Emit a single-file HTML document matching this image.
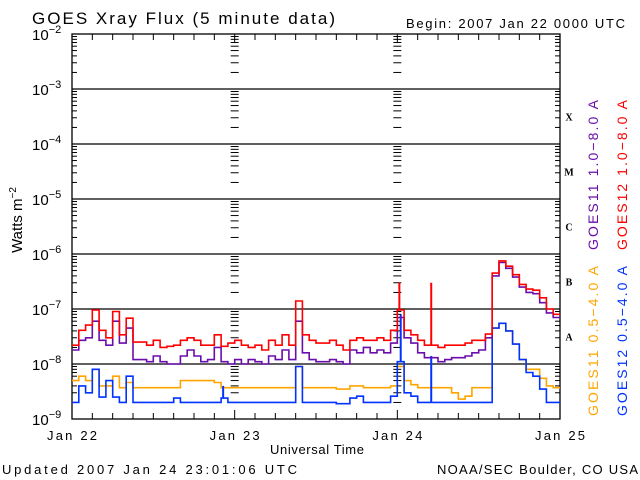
<!DOCTYPE html>
<html><head><meta charset="utf-8"><style>
html,body{margin:0;padding:0;background:#fff}
svg{display:block;font-family:"Liberation Sans","DejaVu Sans",sans-serif}
</style></head><body>
<svg id="chart" width="640" height="480" viewBox="0 0 640 480" xmlns="http://www.w3.org/2000/svg">
<rect x="0" y="0" width="640" height="480" fill="#fff"/>
<text x="32" y="24" font-size="17" textLength="303" lengthAdjust="spacing" fill="#000">GOES Xray Flux (5 minute data)</text>
<text x="406" y="28" font-size="13" textLength="219" lengthAdjust="spacing" fill="#000">Begin:  2007 Jan 22 0000 UTC</text>
<text transform="translate(22,220) rotate(-90)" text-anchor="middle" font-size="15" fill="#000">Watts m<tspan font-size="10" dy="-6">−2</tspan></text>
<text x="270" y="454" font-size="13" textLength="94" lengthAdjust="spacing" fill="#000">Universal Time</text>
<text x="2" y="474" font-size="13" textLength="295" lengthAdjust="spacing" fill="#000">Updated 2007 Jan 24 23:01:06 UTC</text>
<text x="437" y="474" font-size="13" textLength="201" lengthAdjust="spacing" fill="#000">NOAA/SEC Boulder, CO USA</text>
<text transform="translate(598,250) rotate(-90)" font-size="14" textLength="150" lengthAdjust="spacing" fill="#6a0dad">GOES11 1.0−8.0 A</text>
<text transform="translate(627,250) rotate(-90)" font-size="14" textLength="150" lengthAdjust="spacing" fill="#ff0000">GOES12 1.0−8.0 A</text>
<text transform="translate(598,416) rotate(-90)" font-size="14" textLength="150" lengthAdjust="spacing" fill="#ffa500">GOES11 0.5−4.0 A</text>
<text transform="translate(627,416) rotate(-90)" font-size="14" textLength="150" lengthAdjust="spacing" fill="#0033ff">GOES12 0.5−4.0 A</text>
<g id="axes"></g>
<g id="series"></g>
</svg>
<script>
const dayLabels = ["Jan 22","Jan 23","Jan 24","Jan 25"];
const decadeExps = [-9,-8,-7,-6,-5,-4,-3,-2];
const flareClasses = ["A","B","C","M","X"];
// hourly values (Watts m^-2), hours 0..71
const goes12Long = [2.2e-8,4.1e-8,5.1e-8,9.6e-8,4.1e-8,3.0e-8,9.0e-8,3.4e-8,6.8e-8,2.5e-8,2.5e-8,2.2e-8,2.7e-8,2.0e-8,2.1e-8,2.2e-8,2.7e-8,3.0e-8,2.7e-8,2.2e-8,2.2e-8,3.4e-8,2.1e-8,2.4e-8,
 2.7e-8,2.2e-8,2.0e-8,2.2e-8,1.8e-8,2.7e-8,2.2e-8,3.4e-8,2.2e-8,1.4e-7,3.4e-8,2.7e-8,2.4e-8,2.4e-8,2.7e-8,2.2e-8,1.8e-8,2.7e-8,3.0e-8,2.7e-8,2.7e-8,3.0e-8,2.7e-8,4.1e-8,
 9.6e-8,4.1e-8,3.4e-8,2.7e-8,2.2e-8,2.2e-8,2.0e-8,2.2e-8,2.2e-8,2.2e-8,2.4e-8,2.7e-8,2.7e-8,3.5e-8,4.5e-7,7.5e-7,6.0e-7,4.2e-7,2.8e-7,2.3e-7,2.2e-7,1.6e-7,1.0e-7,8.0e-8];
const goes11Long = [1.8e-8,2.7e-8,3.0e-8,6.0e-8,2.7e-8,2.2e-8,6.0e-8,2.4e-8,4.5e-8,1.2e-8,1.2e-8,1.1e-8,1.4e-8,1.1e-8,1.0e-8,1.0e-8,1.4e-8,1.8e-8,1.4e-8,1.1e-8,1.2e-8,2.0e-8,1.1e-8,1.0e-8,
 1.2e-8,1.0e-8,1.2e-8,1.1e-8,1.0e-8,1.4e-8,1.2e-8,1.8e-8,1.2e-8,6.0e-8,1.6e-8,1.2e-8,1.1e-8,1.1e-8,1.2e-8,1.1e-8,1.0e-8,1.8e-8,1.6e-8,2.0e-8,1.6e-8,1.8e-8,1.6e-8,2.4e-8,
 7.0e-8,3.0e-8,2.4e-8,1.6e-8,1.3e-8,1.3e-8,1.1e-8,1.2e-8,1.3e-8,1.3e-8,1.4e-8,1.6e-8,1.8e-8,3.0e-8,4.0e-7,7.0e-7,5.5e-7,3.8e-7,2.5e-7,2.0e-7,1.9e-7,1.3e-7,8.5e-8,7.0e-8];
const goes11Short = [5.0e-9,6.0e-9,5.0e-9,8.0e-9,4.0e-9,4.0e-9,6.0e-9,3.7e-9,4.6e-9,3.7e-9,3.7e-9,3.7e-9,3.7e-9,3.7e-9,3.7e-9,3.7e-9,5.0e-9,5.0e-9,5.0e-9,5.0e-9,5.0e-9,4.6e-9,3.7e-9,3.7e-9,
 3.7e-9,3.7e-9,3.7e-9,3.7e-9,3.7e-9,3.7e-9,3.7e-9,3.7e-9,3.7e-9,9.0e-9,3.7e-9,3.7e-9,3.7e-9,3.7e-9,3.7e-9,3.5e-9,3.5e-9,4.0e-9,4.0e-9,3.7e-9,3.7e-9,3.7e-9,3.7e-9,4.0e-9,
 9.0e-9,5.0e-9,4.2e-9,3.7e-9,3.7e-9,3.7e-9,3.7e-9,3.7e-9,3.0e-9,2.3e-9,2.6e-9,3.7e-9,3.7e-9,3.7e-9,4.5e-8,5.5e-8,4.0e-8,2.3e-8,1.2e-8,8.0e-9,8.0e-9,5.5e-9,4.0e-9,3.7e-9];
const goes12Short = [2.0e-9,4.0e-9,3.0e-9,8.0e-9,2.5e-9,5.0e-9,2.5e-9,2.0e-9,6.0e-9,2.0e-9,2.0e-9,2.0e-9,2.0e-9,2.0e-9,2.0e-9,2.4e-9,2.0e-9,2.0e-9,2.0e-9,2.0e-9,2.0e-9,2.0e-9,2.4e-9,2.0e-9,
 2.0e-9,2.0e-9,2.0e-9,2.0e-9,2.0e-9,2.0e-9,2.0e-9,2.0e-9,2.0e-9,9.0e-9,2.0e-9,2.0e-9,2.0e-9,2.0e-9,2.0e-9,1.9e-9,1.9e-9,2.4e-9,2.6e-9,2.0e-9,2.0e-9,2.0e-9,2.0e-9,2.6e-9,
 1.1e-8,3.0e-9,2.6e-9,2.0e-9,2.0e-9,2.0e-9,2.0e-9,2.0e-9,2.0e-9,2.0e-9,2.0e-9,2.0e-9,2.0e-9,2.0e-9,4.5e-8,5.5e-8,4.0e-8,2.3e-8,1.2e-8,7.0e-9,6.0e-9,3.5e-9,2.0e-9,2.0e-9];
// spikes: hour, value
const spikeHours = [48.3, 53.0, 48.5, 53.0, 22.3];
const spikeValues = [3.0e-7, 3.0e-7, 8.0e-8, 1.4e-8, 4.0e-9];
const spikeSeries = ["goes12Long","goes12Long","goes12Short","goes12Short","goes12Short"];

const X0=72, X1=560, Y0=419, DEC=55, HOURS=72;
const xOf = h => X0 + (X1-X0)*h/HOURS;
const yOf = v => Y0 - (Math.log10(v)+9)*DEC;
const NS="http://www.w3.org/2000/svg";
const axes=document.getElementById('axes'), ser=document.getElementById('series');
function mk(tag, attrs, parent){const e=document.createElementNS(NS,tag);for(const k in attrs)e.setAttribute(k,attrs[k]);parent.appendChild(e);return e;}

decadeExps.forEach((ex,i)=>{
  const y=Y0-(ex+9)*DEC;
  if(ex>-9 && ex<-2){
    const l=mk('line',{x1:X0,x2:X1,y1:y,y2:y,stroke:'#000','stroke-width':1.3},axes);
    
    
  }
  const t=mk('text',{x:32,y:y+6,'font-size':15,fill:'#000'},axes);
  
  
  t.textContent='10';
  const s=mk('tspan',{dy:-7,'font-size':11},t); s.textContent='−'+(-ex);
  if(ex<-2){
    for(let m=2;m<=9;m++){
      const yy=y-Math.log10(m)*DEC;
      [X0,X0+(X1-X0)/3,X0+2*(X1-X0)/3].forEach((xx,j)=>{
        const L = j===0?5:4;
        const tk=mk('line',{x1:j===0?xx:xx-L,x2:xx+L,y1:yy,y2:yy,stroke:'#000','stroke-width':1},axes);
        
        
      });
      const tr=mk('line',{x1:X1-5,x2:X1,y1:yy,y2:yy,stroke:'#000','stroke-width':1},axes);
      
      
    }
  }
});
const fr=mk('rect',{x:X0,y:Y0-7*DEC,width:X1-X0,height:7*DEC,fill:'none',stroke:'#000','stroke-width':1.3},axes);


for(let h=0;h<=HOURS;h+=3){
  const x=xOf(h), L=(h%24===0)?9:6;
  const a=mk('line',{x1:x,x2:x,y1:Y0,y2:Y0-L,stroke:'#000','stroke-width':1},axes);
  
  
  const b=mk('line',{x1:x,x2:x,y1:Y0-7*DEC,y2:Y0-7*DEC+L,stroke:'#000','stroke-width':1},axes);
  
  
}
dayLabels.forEach((d,i)=>{
  const t=mk('text',{x:xOf(i*24)-25,y:440,'font-size':13,textLength:50,lengthAdjust:'spacing',fill:'#000'},axes);
  
  
  t.textContent=d;
});
flareClasses.forEach((c,i)=>{
  const y=Y0-(i+1.5)*DEC+4;
  const t=mk('text',{x:569,y:y,'text-anchor':'middle','font-size':10,'font-weight':'bold','font-family':'Liberation Serif, serif',fill:'#000'},axes);
  
  
  t.textContent=c;
});
const seriesDefs=[["goes11Short",goes11Short,"#ffa500"],["goes12Short",goes12Short,"#0033ff"],["goes11Long",goes11Long,"#6a0dad"],["goes12Long",goes12Long,"#ff0000"]];
seriesDefs.forEach(([name,vals,col])=>{
  let d='';
  vals.forEach((v,i)=>{
    const x1=xOf(i), x2=xOf(i+1), y=yOf(v);
    d+=(i===0?'M':'L')+x1.toFixed(1)+','+y.toFixed(1)+'L'+x2.toFixed(1)+','+y.toFixed(1);
  });
  const p=mk('path',{d:d,fill:'none',stroke:col,'stroke-width':1.6},ser);
  
  
  spikeHours.forEach((h,k)=>{
    if(spikeSeries[k]!==name)return;
    const base=vals[Math.floor(h)];
    const s=mk('line',{x1:xOf(h),x2:xOf(h),y1:yOf(base),y2:yOf(spikeValues[k]),stroke:col,'stroke-width':2},ser);
    
    
  });
});
</script>
</body></html>
